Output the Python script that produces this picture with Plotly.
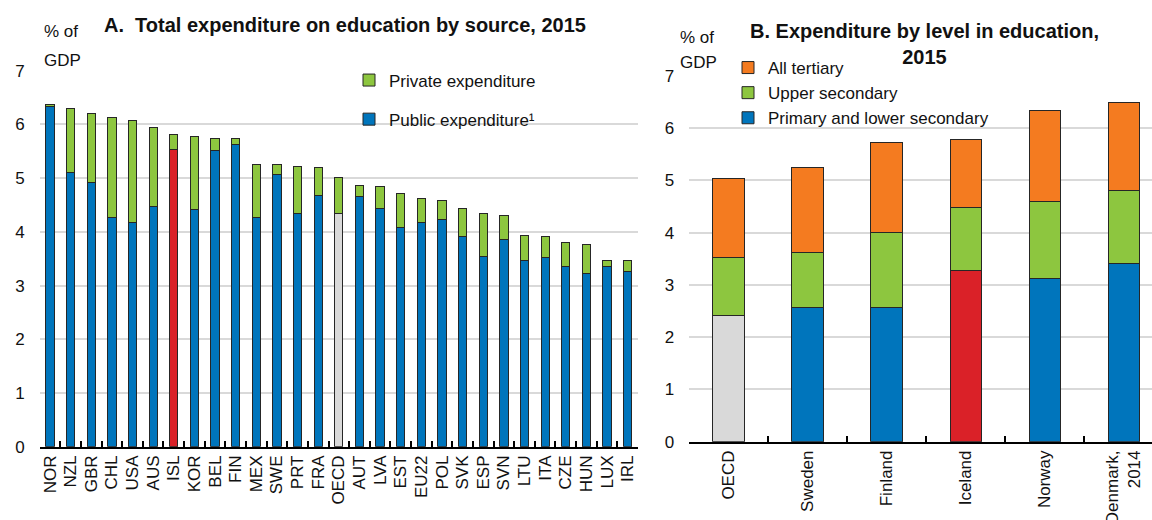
import plotly.graph_objects as go

# ---- Panel A: total expenditure on education by source, 2015 (% of GDP)
a_countries = ["NOR", "NZL", "GBR", "CHL", "USA", "AUS", "ISL", "KOR", "BEL", "FIN",
               "MEX", "SWE", "PRT", "FRA", "OECD", "AUT", "LVA", "EST", "EU22", "POL",
               "SVK", "ESP", "SVN", "LTU", "ITA", "CZE", "HUN", "LUX", "IRL"]
a_public = [6.33, 5.11, 4.92, 4.27, 4.17, 4.47, 5.53, 4.42, 5.52, 5.63,
            4.27, 5.07, 4.35, 4.68, 4.34, 4.65, 4.43, 4.09, 4.18, 4.23,
            3.92, 3.55, 3.86, 3.46, 3.53, 3.35, 3.23, 3.36, 3.27]
a_private = [0.04, 1.18, 1.29, 1.85, 1.90, 1.47, 0.28, 1.36, 0.21, 0.10,
             0.99, 0.18, 0.87, 0.51, 0.67, 0.21, 0.41, 0.63, 0.45, 0.36,
             0.51, 0.80, 0.45, 0.47, 0.39, 0.45, 0.53, 0.10, 0.19]

# ---- Panel B: expenditure by level of education, 2015 (% of GDP)
b_countries = ["OECD", "Sweden", "Finland", "Iceland", "Norway", "Denmark,<br>2014"]
b_primary = [2.41, 2.57, 2.57, 3.27, 3.13, 3.41]
b_upper = [1.12, 1.05, 1.43, 1.22, 1.47, 1.39]
b_tertiary = [1.50, 1.63, 1.73, 1.29, 1.74, 1.70]

y_ticks = [0, 1, 2, 3, 4, 5, 6, 7]

BLUE = "#0075BC"
GREEN = "#8DC63F"
ORANGE = "#F47B20"
RED = "#DA2128"
GREY = "#D9D9D9"
EDGE = "#262626"
GRID = "#D9D9D9"
FONT = "Liberation Sans, Arial, sans-serif"

highlight_a = {"ISL": RED, "OECD": GREY}
highlight_b = {"Iceland": RED, "OECD": GREY}

W, H = 1152, 520

fig = go.Figure()

# Panel A bars
pub_colors = [highlight_a.get(c, BLUE) for c in a_countries]
fig.add_trace(go.Bar(
    x=a_countries, y=a_public, name="Public expenditure\u00b9",
    marker=dict(color=pub_colors, line=dict(color=EDGE, width=1)),
    xaxis="x", yaxis="y", legend="legend", legendgroup="pub", legendrank=2,
))
fig.add_trace(go.Bar(
    x=a_countries, y=a_private, name="Private expenditure",
    marker=dict(color=GREEN, line=dict(color=EDGE, width=1)),
    xaxis="x", yaxis="y", legend="legend", legendgroup="priv", legendrank=1,
))

# Panel B bars: the primary level is split so highlighted countries get their own colour
plain_primary = [None if c in highlight_b else v for c, v in zip(b_countries, b_primary)]
fig.add_trace(go.Bar(
    x=b_countries, y=plain_primary, name="Primary and lower secondary",
    marker=dict(color=BLUE, line=dict(color=EDGE, width=1)),
    xaxis="x2", yaxis="y2", legend="legend2",
))
for c, v in zip(b_countries, b_primary):
    if c in highlight_b:
        fig.add_trace(go.Bar(
            x=[c], y=[v], showlegend=False,
            marker=dict(color=highlight_b[c], line=dict(color=EDGE, width=1)),
            xaxis="x2", yaxis="y2",
        ))
fig.add_trace(go.Bar(
    x=b_countries, y=b_upper, name="Upper secondary",
    marker=dict(color=GREEN, line=dict(color=EDGE, width=1)),
    xaxis="x2", yaxis="y2", legend="legend2",
))
fig.add_trace(go.Bar(
    x=b_countries, y=b_tertiary, name="All tertiary",
    marker=dict(color=ORANGE, line=dict(color=EDGE, width=1)),
    xaxis="x2", yaxis="y2", legend="legend2",
))

xcommon = dict(
    type="category", tickangle=-90, tickson="boundaries", ticks="inside",
    ticklen=6, tickwidth=1.5, tickcolor="black", showline=True,
    linecolor="black", linewidth=2, showgrid=False, zeroline=False,
    fixedrange=True, automargin=False,
    tickfont=dict(family=FONT, size=17, color="#111111"),
)
ycommon = dict(
    range=[0, 7], tickvals=y_ticks, showgrid=True, gridcolor=GRID,
    gridwidth=2, zeroline=False, showline=False, ticks="",
    tickfont=dict(family=FONT, size=17, color="#111111"),
    ticklabelstandoff=14, fixedrange=True, automargin=False,
)

fig.update_layout(
    width=W, height=H,
    margin=dict(l=0, r=0, t=0, b=0, autoexpand=False),
    paper_bgcolor="white", plot_bgcolor="white",
    barmode="stack", bargap=0.6,
    font=dict(family=FONT, size=17, color="#111111"),
    xaxis=dict(xcommon, domain=[39.7 / W, 638 / W], anchor="y",
               categoryorder="array", categoryarray=a_countries,
               range=[-0.5, len(a_countries) - 0.5]),
    yaxis=dict(ycommon, domain=[1 - 446.7 / H, 1 - 70.7 / H], anchor="x"),
    xaxis2=dict(xcommon, domain=[689.3 / W, 1.0], anchor="y2",
                categoryorder="array", categoryarray=b_countries,
                range=[-0.5, 5.357]),
    yaxis2=dict(ycommon, domain=[1 - 441.7 / H, 1 - 76 / H], anchor="x2"),
    legend=dict(
        x=349 / W, xanchor="left", y=1 - 62.5 / H, yanchor="top",
        traceorder="grouped", tracegroupgap=14,
        bgcolor="rgba(0,0,0,0)", font=dict(family=FONT, size=17),
    ),
    legend2=dict(
        x=728 / W, xanchor="left", y=1 - 50 / H, yanchor="top",
        traceorder="reversed", bgcolor="rgba(0,0,0,0)",
        font=dict(family=FONT, size=17),
    ),
    annotations=[
        dict(text="<b>A.\u00a0 Total expenditure on education by source, 2015</b>",
             x=344.5 / W, y=1 - 25 / H, xref="paper", yref="paper",
             xanchor="center", yanchor="middle", showarrow=False,
             font=dict(family=FONT, size=20)),
        dict(text="<b>B. Expenditure by level in education,<br>2015</b>",
             x=924 / W, y=1 - 44 / H, xref="paper", yref="paper",
             xanchor="center", yanchor="middle", showarrow=False,
             font=dict(family=FONT, size=20)),
        dict(text="% of", x=42 / W, y=1 - 31 / H, xref="paper", yref="paper",
             xanchor="left", yanchor="middle", showarrow=False),
        dict(text="GDP", x=42 / W, y=1 - 60 / H, xref="paper", yref="paper",
             xanchor="left", yanchor="middle", showarrow=False),
        dict(text="% of", x=678 / W, y=1 - 37.5 / H, xref="paper", yref="paper",
             xanchor="left", yanchor="middle", showarrow=False),
        dict(text="GDP", x=678 / W, y=1 - 62.5 / H, xref="paper", yref="paper",
             xanchor="left", yanchor="middle", showarrow=False),
    ],
)

fig.write_html("out.html")
